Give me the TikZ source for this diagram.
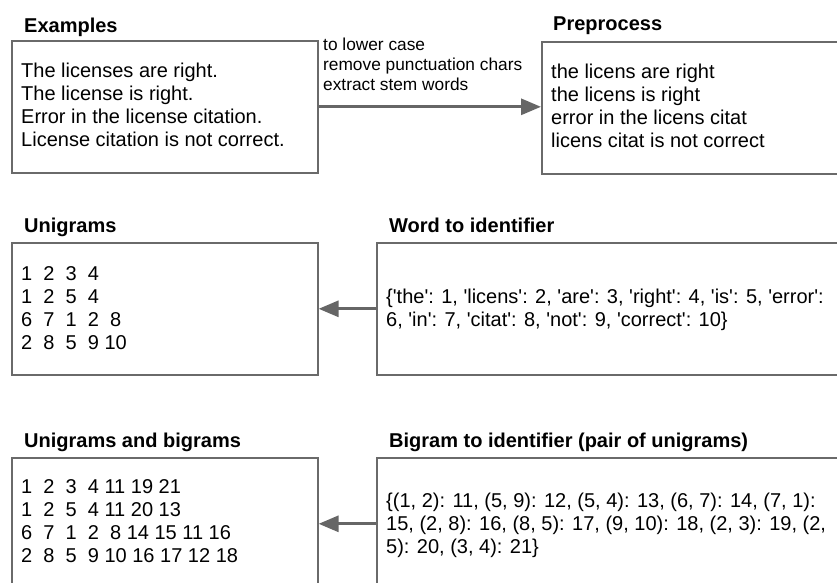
\documentclass[tikz,border=0pt]{standalone}
\usepackage{fontspec}
\setmainfont{Liberation Sans}
\usetikzlibrary{arrows.meta}
\definecolor{bord}{HTML}{6A6A6A}
\definecolor{arr}{HTML}{666666}
\newcommand\sq{\textquotesingle}
\tikzset{
 box/.style={draw=bord, line width=1.6pt, rectangle, anchor=north west, inner sep=0pt},
 ttl/.style={anchor=base west, inner sep=0pt, font=\bfseries\fontsize{20}{23.3}\selectfont},
 txt/.style={anchor=base west, inner sep=0pt, font=\fontsize{20}{23.3}\selectfont},
 lbl/.style={anchor=base west, inner sep=0pt, font=\fontsize{17.3}{20.4}\selectfont},
 conn/.style={draw=arr, line width=3pt, -{Triangle[length=20pt,width=16pt]}},
}
\begin{document}
\begin{tikzpicture}[x=1pt,y=-1pt]
\useasboundingbox (0,0) rectangle (837,582);
\begin{scope}
\clip (0,0) rectangle (837,582);
% boxes
\node[box, minimum width=306pt, minimum height=132pt] (ex) at (11,40) {};
\node[box, minimum width=330pt, minimum height=132pt] (pre) at (541,41) {};
\node[box, minimum width=306pt, minimum height=132pt] (uni) at (11,242) {};
\node[box, minimum width=490pt, minimum height=132pt] (w2i) at (376,242) {};
\node[box, minimum width=306pt, minimum height=132pt] (ub) at (11,457) {};
\node[box, minimum width=490pt, minimum height=132pt] (b2i) at (376,457) {};
% titles
\node[ttl] (tex) at (24,32) {Examples};
\node[ttl] (tpre) at (553,30) {Preprocess};
\node[ttl] (tuni) at (24,232) {Unigrams};
\node[ttl] (tw2i) at (389,232) {Word to identifier};
\node[ttl] (tub) at (24,447) {Unigrams and bigrams};
\node[ttl] (tb2i) at (389,447) {Bigram to identifier (pair of unigrams)};
% contents
\node[txt] (cex) at (21,77) {\begin{tabular}[t]{@{}l@{}}The licenses are right.\\The license is right.\\Error in the license citation.\\License citation is not correct.\end{tabular}};
\node[txt] (cpre) at (551,78) {\begin{tabular}[t]{@{}l@{}}the licens are right\\the licens is right\\error in the licens citat\\licens citat is not correct\end{tabular}};
\node[txt] (cuni) at (21,280) {\begin{tabular}[t]{@{}l@{}}1\ \ 2\ \ 3\ \ 4\\1\ \ 2\ \ 5\ \ 4\\6\ \ 7\ \ 1\ \ 2\ \ 8\\2\ \ 8\ \ 5\ \ 9 10\end{tabular}};
\node[txt] (cw2i) at (386,303) {\begin{tabular}[t]{@{}l@{}}\{\sq the\sq: 1, \sq licens\sq: 2, \sq are\sq: 3, \sq right\sq: 4, \sq is\sq: 5, \sq error\sq:\\6, \sq in\sq: 7, \sq citat\sq: 8, \sq not\sq: 9, \sq correct\sq: 10\}\end{tabular}};
\node[txt] (cub) at (21,493) {\begin{tabular}[t]{@{}l@{}}1\ \ 2\ \ 3\ \ 4 11 19 21\\1\ \ 2\ \ 5\ \ 4 11 20 13\\6\ \ 7\ \ 1\ \ 2\ \ 8 14 15 11 16\\2\ \ 8\ \ 5\ \ 9 10 16 17 12 18\end{tabular}};
\node[txt] (cb2i) at (386,507) {\begin{tabular}[t]{@{}l@{}}\{(1, 2): 11, (5, 9): 12, (5, 4): 13, (6, 7): 14, (7, 1):\\15, (2, 8): 16, (8, 5): 17, (9, 10): 18, (2, 3): 19, (2,\\5): 20, (3, 4): 21\}\end{tabular}};
% connectors
\draw[conn] (ex.east) -- (ex.east -| pre.west);
\draw[conn] (w2i.west) -- (w2i.west -| uni.east);
\draw[conn] (b2i.west) -- (b2i.west -| ub.east);
\node[lbl] (steps) at (323,50) {\begin{tabular}[t]{@{}l@{}}to lower case\\remove punctuation chars\\extract stem words\end{tabular}};
\end{scope}
\end{tikzpicture}
\end{document}
